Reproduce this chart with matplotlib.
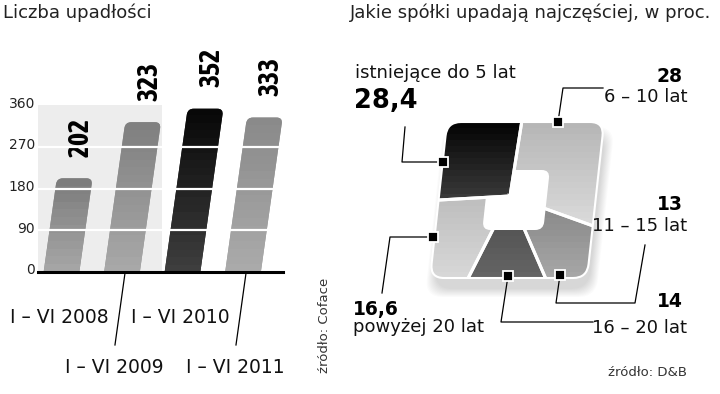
import numpy as np
import matplotlib
matplotlib.use("Agg")
import matplotlib.pyplot as plt
from matplotlib.patches import FancyBboxPatch, PathPatch, Wedge, Rectangle
from matplotlib.path import Path
from matplotlib.transforms import Affine2D, ScaledTranslation

plt.rcParams['font.family'] = ['DejaVu Sans']

# left chart: number of bankruptcies
periods = ["I – VI 2008", "I – VI 2009", "I – VI 2010", "I – VI 2011"]
counts = [202, 323, 352, 333]
yticks = [0, 90, 180, 270, 360]

# right chart: share by company age, %
ages = ["6 – 10 lat", "11 – 15 lat", "16 – 20 lat", "powyżej 20 lat", "istniejące do 5 lat"]
shares = [28, 13, 14, 16.6, 28.4]
share_txt = ["28", "13", "14", "16,6", "28,4"]

# grey levels (top, bottom) for the banded fills
bar_top = [125, 128, 8, 138]
bar_bot = [165, 168, 62, 170]
wed_top = [182, 101, 51, 165, 5]
wed_bot = [236, 166, 100, 215, 115]

W, H = 720, 394
fig = plt.figure(figsize=(7.2, 3.94), dpi=100)


def box(x0, y0, x1, y1):
    # pixel box (y measured from top) -> figure fraction
    return [x0 / W, (H - y1) / H, (x1 - x0) / W, (y1 - y0) / H]


# ---------------- bars ----------------
ax = fig.add_axes(box(38, 105, 283, 272))
x = np.arange(len(counts))
slant = 0.00108   # sideways shift (in categories) per unit of height
bw = 0.59
rx, ry = 6 / 60.5, 6 / 0.4639   # corner radius in x / y data units
bar_tr = Affine2D().skew(np.arctan(slant), 0) + ax.transData

ax.add_patch(Rectangle((-0.4, 0), 2.06, 360, fc='#ededed', lw=0, zorder=0))

bars = ax.bar(x, counts, width=bw, color=['#909090', '#939393', '#202020', '#9a9a9a'],
              lw=0, zorder=2)
for i, (b, v) in enumerate(zip(bars, counts)):
    x0, w, h = b.get_x(), b.get_width(), b.get_height()
    shape = FancyBboxPatch((x0, -2 * ry), w, h + 2 * ry,
                           boxstyle="round,pad=0,rounding_size=%g" % rx,
                           mutation_aspect=ry / rx, transform=bar_tr,
                           fc=b.get_facecolor(), lw=0, zorder=2)
    ax.add_patch(shape)
    b.set_visible(False)
    lev = np.linspace(bar_bot[i], bar_top[i], max(int(v / 16), 2))[:, None]
    im = ax.imshow(lev, cmap='gray', vmin=0, vmax=255, origin='lower',
                   extent=(x0 - 0.05, x0 + w + slant * h + 0.05, 0, h),
                   aspect='auto', interpolation='nearest', zorder=2.5)
    im.set_clip_path(shape)
    ax.text(i + slant * v + 0.11, v + 46, str(v), rotation=90, ha='center', va='bottom',
            fontsize=20, fontweight='bold', family=['Asap Condensed', 'DejaVu Sans'],
            color='black', clip_on=False)

for t in yticks[1:-1]:
    ax.axhline(t, color='white', lw=1.6, zorder=3)
ax.axhline(0, color='black', lw=2.2, zorder=4, clip_on=False)

ax.set_xlim(-0.388, 3.661)
ax.set_ylim(0, 360)
ax.set_xticks([])
ax.set_yticks(yticks)
ax.set_yticklabels([str(t) for t in yticks])
ax.tick_params(axis='y', length=0, pad=2, labelsize=10, labelcolor='#222222')
for lab in ax.get_yticklabels():
    lab.set_transform(lab.get_transform() + ScaledTranslation(0, 0.03, fig.dpi_scale_trans))
for s in ax.spines.values():
    s.set_visible(False)

tr = ax.get_xaxis_transform()
for i, lab in enumerate(periods):
    if i % 2 == 0:
        ax.text(i - 0.04, -0.305, lab, transform=tr, ha='center', va='baseline',
                fontsize=13.5, color='#111111')
    else:
        ax.text(i - 0.13, -0.605, lab, transform=tr, ha='center', va='baseline',
                fontsize=13.5, color='#111111')
        ax.plot([i + 0.05, i - 0.116], [-0.006, -0.437], transform=tr, color='black',
                lw=0.9, clip_on=False)

# ---------------- rounded square "pie" ----------------
pax = fig.add_axes(box(400, 106, 620, 300))
sh = Affine2D().skew(np.arctan(0.109), 0)
shear = sh + pax.transData

outer = FancyBboxPatch((-71, -82), 157, 156, boxstyle="round,pad=0,rounding_size=14",
                       transform=shear, fc='none', ec='white', lw=1.5, zorder=8)
pax.add_patch(outer)

wedges, _ = pax.pie(shares, colors=['#c8c8c8', '#8c8c8c', '#5a5a5a', '#cccccc', '#1a1a1a'],
                    startangle=81, counterclock=False, radius=200, center=(0, 0),
                    wedgeprops=dict(lw=0))
for j, w in enumerate(wedges):
    z = 4 if j == len(wedges) - 1 else 2
    w.set_zorder(z)
    w.set_clip_on(True)
    w.set_clip_path(outer)
    lev = np.linspace(wed_bot[j], wed_top[j], 26)[:, None]
    im = pax.imshow(lev, cmap='gray', vmin=0, vmax=255, origin='lower',
                    extent=(-95, 100, -82, 74), aspect='auto', interpolation='nearest',
                    zorder=z + 0.1)
    im.set_clip_path(w)

hole = FancyBboxPatch((-24, -34), 61, 60, boxstyle="round,pad=0,rounding_size=8",
                      transform=shear, fc='white', ec='none', zorder=3)
pax.add_patch(hole)

for w in wedges:
    e = Wedge(w.center, w.r, w.theta1, w.theta2, fc='none', ec='white', lw=2.2, zorder=5)
    pax.add_patch(e)
    e.set_clip_path(outer)

# white mask outside the rounded square
poly = sh.transform_path(outer.get_path()).to_polygons()[0]
area = 0.5 * np.sum(poly[:-1, 0] * poly[1:, 1] - poly[1:, 0] * poly[:-1, 1])
if area > 0:
    poly = poly[::-1]
rect = np.array([(-140, -130), (140, -130), (140, 110), (-140, 110), (-140, -130)])
mpath = Path.make_compound_path(Path(rect, closed=True), Path(poly, closed=True))
mask = PathPatch(mpath, fc='white', ec='none', zorder=6)
pax.add_patch(mask)

# soft shadow below / right, only outside the square
for k in range(10):
    s = FancyBboxPatch((-66, -93), 155, 154,
                       boxstyle="round,pad=%g,rounding_size=18" % (k * 0.9),
                       transform=shear, fc='black', ec='none', alpha=0.016, zorder=7)
    pax.add_patch(s)
    s.set_clip_path(mask)

pax.set_xlim(-110, 110)
pax.set_ylim(-104, 90)
pax.set_aspect('auto')
pax.axis('off')

# ---------------- overlay: titles, labels, leaders ----------------
ov = fig.add_axes([0, 0, 1, 1])
ov.set_xlim(0, W)
ov.set_ylim(H, 0)
ov.axis('off')
ov.patch.set_alpha(0)

ov.text(3, 18, "Liczba upadłości", fontsize=13, color='#222222', va='baseline')
ov.text(350, 18, "Jakie spółki upadają najczęściej, w proc.", fontsize=13,
        color='#222222', va='baseline')
ov.text(325, 325, "źródło: Coface", rotation=90, ha='center', va='center',
        fontsize=9.5, color='#333333')
ov.text(687, 376, "źródło: D&B", ha='right', va='baseline', fontsize=9.5, color='#333333')

big = dict(fontweight='bold', color='black', va='baseline')
reg = dict(color='#111111', va='baseline', fontsize=13)

# istniejące do 5 lat
ov.text(355, 78, ages[4], ha='left', **reg)
ov.text(354, 108, share_txt[4], ha='left', fontsize=18.5, **big)
ov.plot([443, 402, 405], [162, 162, 127], color='black', lw=0.9)
# 6 - 10 lat
ov.text(683, 82, share_txt[0], ha='right', fontsize=13.5, **big)
ov.text(687, 102, ages[0], ha='right', **reg)
ov.plot([558, 563, 603], [122, 88, 88], color='black', lw=0.9)
# 11 - 15 lat
ov.text(683, 210, share_txt[1], ha='right', fontsize=13.5, **big)
ov.text(687, 231, ages[1], ha='right', **reg)
ov.plot([560, 556, 635, 645], [275, 303, 303, 245], color='black', lw=0.9)
# 16 - 20 lat
ov.text(683, 307, share_txt[2], ha='right', fontsize=13.5, **big)
ov.text(687, 333, ages[2], ha='right', **reg)
ov.plot([508, 501, 593], [276, 322, 322], color='black', lw=0.9)
# powyżej 20 lat
ov.text(353, 315, share_txt[3], ha='left', fontsize=13.5, **big)
ov.text(353, 332, ages[3], ha='left', **reg)
ov.plot([433, 390, 382], [237, 237, 293], color='black', lw=0.9)

ov.plot([443, 558, 560, 508, 433], [162, 122, 275, 276, 237], ls='none', marker='s',
        ms=6.5, mfc='black', mec='white', mew=1.3)

fig.savefig("out.png", dpi=100)
